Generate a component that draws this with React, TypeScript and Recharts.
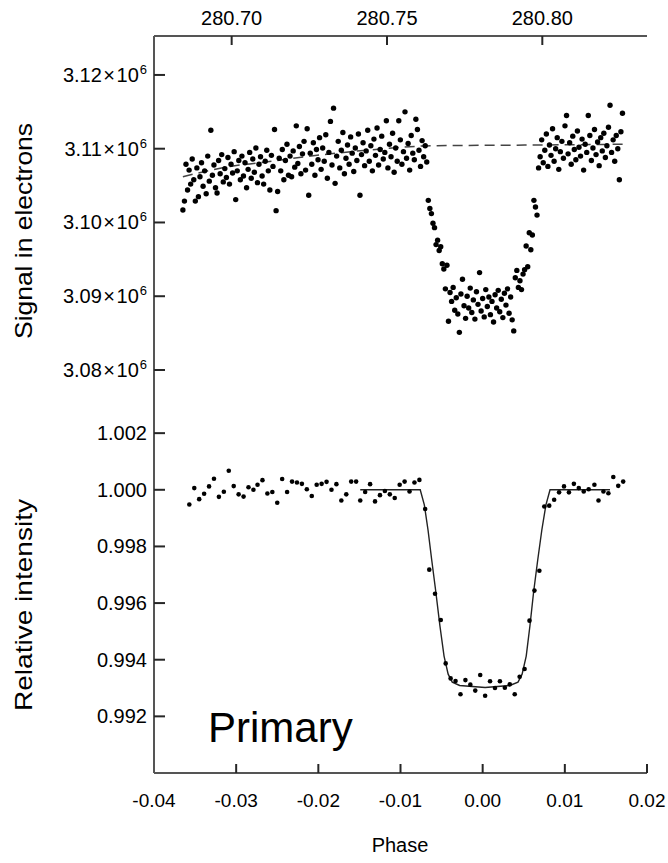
import React from 'react';
import { ComposedChart, Scatter, Line, XAxis, YAxis } from 'recharts';

const FONT = '"Liberation Sans", Arial, Helvetica, sans-serif';
const FRAME = '#555';
const TICK = '#262626';

// ---- tick labels (major ticks) ----
const timeMajorTicks = [280.7, 280.75, 280.8];
const signalMajorTicks = [3.08, 3.09, 3.1, 3.11, 3.12];
const phaseMajorTicks = [-0.04, -0.03, -0.02, -0.01, 0.0, 0.01, 0.02];
const intensityMajorTicks = [0.992, 0.994, 0.996, 0.998, 1.0, 1.002];

// ---- axis ranges ----
const timeDomain: [number, number] = [280.675, 280.8337];
const signalDomain: [number, number] = [3.07566, 3.12528];
const phaseDomain: [number, number] = [-0.04, 0.02];
const intensityDomain: [number, number] = [0.99, 1.0031];

// ---- top panel: raw signal (time in days, signal in 10^6 electrons) ----
const topSignal: [number, number][] = [
  [280.6843,3.1017],[280.6848,3.1029],[280.6853,3.1079],[280.6858,3.1044],[280.6863,3.1071],[280.6868,3.1052],[280.6873,3.1086],[280.6878,3.1058],[280.6883,3.1029],[280.6888,3.1074],
  [280.6893,3.1035],[280.6898,3.1062],[280.6903,3.1081],[280.6908,3.1049],[280.6913,3.1070],[280.6918,3.1039],[280.6923,3.1090],[280.6928,3.1056],[280.6933,3.1125],[280.6938,3.1064],
  [280.6943,3.1078],[280.6948,3.1047],[280.6953,3.1040],[280.6958,3.1084],[280.6963,3.1066],[280.6968,3.1092],[280.6973,3.1055],[280.6978,3.1073],[280.6983,3.1061],[280.6988,3.1088],
  [280.6993,3.1052],[280.6998,3.1079],[280.7003,3.1067],[280.7008,3.1096],[280.7013,3.1031],[280.7018,3.1070],[280.7023,3.1084],[280.7028,3.1058],[280.7033,3.1090],[280.7038,3.1063],
  [280.7043,3.1081],[280.7048,3.1047],[280.7053,3.1072],[280.7058,3.1095],[280.7063,3.1060],[280.7068,3.1086],[280.7073,3.1068],[280.7078,3.1101],[280.7083,3.1054],[280.7088,3.1079],
  [280.7093,3.1089],[280.7098,3.1063],[280.7103,3.1052],[280.7108,3.1083],[280.7113,3.1098],[280.7118,3.1070],[280.7123,3.1044],[280.7128,3.1091],[280.7133,3.1076],[280.7138,3.1126],
  [280.7143,3.1016],[280.7148,3.1042],[280.7153,3.1087],[280.7158,3.1070],[280.7163,3.1099],[280.7168,3.1058],[280.7173,3.1084],[280.7178,3.1106],[280.7183,3.1064],[280.7188,3.1090],
  [280.7193,3.1062],[280.7198,3.1097],[280.7203,3.1075],[280.7208,3.1131],[280.7213,3.1080],[280.7218,3.1103],[280.7223,3.1066],[280.7228,3.1093],[280.7233,3.1110],[280.7238,3.1071],
  [280.7243,3.1127],[280.7248,3.1037],[280.7253,3.1094],[280.7258,3.1079],[280.7263,3.1108],[280.7268,3.1064],[280.7273,3.1099],[280.7278,3.1085],[280.7283,3.1115],[280.7288,3.1072],
  [280.7293,3.1101],[280.7298,3.1083],[280.7303,3.1119],[280.7308,3.1060],[280.7313,3.1095],[280.7318,3.1137],[280.7323,3.1078],[280.7328,3.1155],[280.7333,3.1053],[280.7338,3.1090],
  [280.7343,3.1110],[280.7348,3.1074],[280.7353,3.1098],[280.7358,3.1122],[280.7363,3.1066],[280.7368,3.1087],[280.7373,3.1105],[280.7378,3.1079],[280.7383,3.1116],[280.7388,3.1094],
  [280.7393,3.1069],[280.7398,3.1101],[280.7403,3.1084],[280.7408,3.1120],[280.7413,3.1037],[280.7418,3.1092],[280.7423,3.1108],[280.7428,3.1077],[280.7433,3.1097],[280.7438,3.1125],
  [280.7443,3.1083],[280.7448,3.1104],[280.7453,3.1070],[280.7458,3.1113],[280.7463,3.1091],[280.7468,3.1128],[280.7473,3.1078],[280.7478,3.1099],[280.7483,3.1117],[280.7488,3.1086],
  [280.7493,3.1095],[280.7498,3.1138],[280.7503,3.1074],[280.7508,3.1106],[280.7513,3.1089],[280.7518,3.1121],[280.7523,3.1068],[280.7528,3.1101],[280.7533,3.1083],[280.7538,3.1138],
  [280.7543,3.1112],[280.7548,3.1079],[280.7553,3.1096],[280.7558,3.1150],[280.7563,3.1087],[280.7568,3.1107],[280.7573,3.1071],[280.7578,3.1118],[280.7583,3.1094],[280.7588,3.1085],
  [280.7593,3.1140],[280.7598,3.1126],[280.7603,3.1098],[280.7608,3.1076],[280.7613,3.1111],[280.7618,3.1089],[280.7623,3.1104],[280.7628,3.1082],
  [280.7633,3.1030],[280.7638,3.1019],[280.7643,3.1012],[280.7648,3.0999],[280.7653,3.0993],[280.7658,3.0970],[280.7663,3.0976],[280.7668,3.0962],[280.7673,3.0967],[280.7678,3.0944],
  [280.7683,3.0937],[280.7688,3.0910],[280.7693,3.0942],
  [280.7698,3.0866],[280.7703,3.0905],[280.7708,3.0893],[280.7713,3.0912],[280.7718,3.0881],[280.7723,3.0898],[280.7728,3.0876],[280.7733,3.0851],[280.7738,3.0903],[280.7743,3.0923],
  [280.7748,3.0887],[280.7753,3.0870],[280.7758,3.0900],[280.7763,3.0884],[280.7768,3.0911],[280.7773,3.0878],[280.7778,3.0895],[280.7783,3.0869],[280.7788,3.0906],[280.7793,3.0889],
  [280.7798,3.0932],[280.7803,3.0880],[280.7808,3.0897],[280.7813,3.0872],[280.7818,3.0909],[280.7823,3.0886],[280.7828,3.0899],[280.7833,3.0875],[280.7838,3.0893],[280.7843,3.0865],
  [280.7848,3.0902],[280.7853,3.0884],[280.7858,3.0908],[280.7863,3.0879],[280.7868,3.0896],[280.7873,3.0871],[280.7878,3.0904],[280.7883,3.0888],[280.7888,3.0910],[280.7893,3.0877],
  [280.7898,3.0899],[280.7903,3.0868],
  [280.7908,3.0853],[280.7913,3.0925],[280.7918,3.0935],[280.7923,3.0912],[280.7928,3.0921],[280.7933,3.0909],[280.7938,3.0930],[280.7943,3.0936],[280.7948,3.0968],[280.7953,3.0940],
  [280.7958,3.0986],[280.7963,3.0963],[280.7968,3.0983],[280.7973,3.1030],[280.7978,3.1021],[280.7983,3.1010],
  [280.7988,3.1074],[280.7993,3.1089],[280.7998,3.1112],[280.8003,3.1081],[280.8008,3.1098],[280.8013,3.1120],[280.8018,3.1076],[280.8023,3.1105],[280.8028,3.1091],[280.8033,3.1127],
  [280.8038,3.1083],[280.8043,3.1100],[280.8048,3.1115],[280.8053,3.1072],[280.8058,3.1096],[280.8063,3.1110],[280.8068,3.1087],[280.8073,3.1131],[280.8078,3.1145],[280.8083,3.1093],
  [280.8088,3.1108],[280.8093,3.1079],[280.8098,3.1117],[280.8103,3.1099],[280.8108,3.1085],[280.8113,3.1124],[280.8118,3.1102],[280.8123,3.1090],[280.8128,3.1113],[280.8133,3.1071],
  [280.8138,3.1106],[280.8143,3.1095],[280.8148,3.1145],[280.8153,3.1118],[280.8158,3.1084],[280.8163,3.1101],[280.8168,3.1126],[280.8173,3.1092],[280.8178,3.1109],[280.8183,3.1077],
  [280.8188,3.1115],[280.8193,3.1097],[280.8198,3.1121],[280.8203,3.1088],[280.8208,3.1104],[280.8213,3.1129],[280.8218,3.1159],[280.8223,3.1095],[280.8228,3.1112],[280.8233,3.1083],
  [280.8238,3.1118],[280.8243,3.1100],[280.8248,3.1058],[280.8253,3.1123],[280.8258,3.1148],
];

// dashed out-of-eclipse baseline fit (time, 10^6 electrons)
const signalBaseline: [number, number][] = [
  [280.6843,3.1062],[280.6995,3.1076],[280.7091,3.1081],[280.7294,3.1092],[280.7436,3.1098],
  [280.7648,3.1104],[280.7983,3.1105],[280.8260,3.1106],
];

// ---- bottom panel: phase-binned relative intensity ----
const binnedIntensity: [number, number][] = [
  [-0.0357,0.99948],[-0.0351,1.00006],[-0.0345,0.99967],[-0.0339,0.99986],[-0.0333,1.00012],[-0.0327,1.00039],[-0.0321,0.99975],[-0.0315,0.99993],[-0.0309,1.00067],[-0.0303,1.00013],
  [-0.0297,0.99984],[-0.0291,0.99976],[-0.0285,1.00009],[-0.0279,1.0],[-0.0274,1.00018],[-0.0268,1.00034],[-0.0262,0.99987],[-0.0256,0.99992],[-0.0250,0.99954],[-0.0244,1.00038],
  [-0.0238,0.99992],[-0.0232,1.00029],[-0.0226,1.00026],[-0.0220,1.00021],[-0.0214,1.00002],[-0.0208,0.99978],[-0.0202,1.00018],[-0.0196,1.00021],[-0.0190,1.00028],[-0.0184,1.0],
  [-0.0178,1.0002],[-0.0172,0.99962],[-0.0166,0.99984],[-0.0160,1.00029],[-0.0154,1.00029],[-0.0149,0.99962],[-0.0143,0.99992],[-0.0137,1.0002],[-0.0131,0.99959],[-0.0125,0.99981],
  [-0.0119,0.99996],[-0.0113,0.99984],[-0.0107,0.99971],[-0.0101,1.00018],[-0.0095,1.00029],[-0.0089,0.99994],[-0.0083,1.00026],[-0.0077,1.00035],[-0.0070,0.99932],[-0.0065,0.99718],
  [-0.0058,0.99633],[-0.0051,0.9954],[-0.0045,0.99387],[-0.0039,0.99334],[-0.0033,0.99325],[-0.0027,0.99278],[-0.0021,0.99328],[-0.0015,0.99312],[-0.0009,0.99291],[-0.0003,0.99346],
  [0.0003,0.99273],[0.0009,0.99324],[0.0015,0.993],[0.0021,0.99324],[0.0027,0.99301],[0.0033,0.99313],[0.0039,0.99278],[0.0045,0.9934],[0.0051,0.99367],[0.0057,0.99538],
  [0.0063,0.99644],[0.0069,0.99714],[0.0075,0.99941],[0.0081,0.99944],[0.0087,0.99965],[0.0093,0.99991],[0.0099,1.00012],[0.0105,0.99991],[0.0111,1.00021],[0.0117,1.00006],
  [0.0123,0.99994],[0.0129,1.00002],[0.0136,1.00018],[0.0141,0.99962],[0.0147,0.99994],[0.0153,0.99988],[0.0159,1.00045],[0.0165,1.00014],[0.0171,1.00029],
];

// eclipse model (phase, relative intensity)
const eclipseModel: [number, number][] = [
  [-0.0149,1.0],[-0.0076,1.0],[-0.0071,0.99947],[-0.00665,0.99858],[-0.0062,0.99752],[-0.0057,0.99639],[-0.0052,0.99519],
  [-0.0047,0.99413],[-0.0042,0.99349],[-0.0037,0.99321],[-0.0028,0.99309],[0.0003,0.99302],[0.0033,0.99309],[0.0043,0.99321],
  [0.0048,0.99349],[0.0053,0.99413],[0.00575,0.99519],[0.0062,0.99639],[0.0067,0.99752],[0.0072,0.99858],[0.0077,0.99947],
  [0.0082,1.0],[0.0155,1.0],
];

// ---- helpers ----
const steps = (from: number, to: number, step: number, digits: number) => {
  const n = Math.round((to - from) / step);
  const out: number[] = [];
  for (let i = 0; i <= n; i++) out.push(+(from + i * step).toFixed(digits));
  return out;
};
const timeMinorTicks = steps(280.68, 280.83, 0.01, 2);
const signalMinorTicks = steps(3.076, 3.125, 0.001, 3);
const phaseMinorTicks = steps(-0.04, 0.02, 0.001, 3);
const intensityMinorTicks = steps(0.9905, 1.003, 0.0005, 4);

const toXY = (arr: [number, number][]) => arr.map(([x, y]) => ({ x, y }));
const topData = toXY(topSignal);
const baselineData = toXY(signalBaseline);
const binnedData = toXY(binnedIntensity);
const modelData = toXY(eclipseModel);

const yLabelStyle = { fontFamily: FONT, fontSize: 20, fill: '#000' };
const topLabelStyle = { fontFamily: FONT, fontSize: 20, fill: '#000' };
const bottomLabelStyle = { fontFamily: FONT, fontSize: 19, fill: '#000' };

// label renderers (tick marks themselves are drawn by the axes' tickLine)
const signalLabel = (p: any) => (
  <text x={p.x} y={p.y + 7} textAnchor="end" {...yLabelStyle}>
    {Number(p.payload.value).toFixed(2)}<tspan dx={1.5}>×</tspan><tspan dx={1.5}>10</tspan>
    <tspan dx={1} dy={-8} fontSize={13}>6</tspan>
  </text>
);
const intensityLabel = (p: any) => (
  <text x={p.x} y={p.y + 7} textAnchor="end" {...yLabelStyle}>{Number(p.payload.value).toFixed(3)}</text>
);
const timeLabel = (p: any) => (
  <text x={p.x} y={p.y} textAnchor="middle" {...topLabelStyle}>{Number(p.payload.value).toFixed(2)}</text>
);
const phaseLabel = (p: any) => (
  <text x={p.x} y={p.y} textAnchor="middle" {...bottomLabelStyle}>{Number(p.payload.value).toFixed(2)}</text>
);

const dotTop = (p: any) => <circle cx={p.cx} cy={p.cy} r={2.7} fill="#000" />;
const dotBottom = (p: any) => <circle cx={p.cx} cy={p.cy} r={2.3} fill="#000" />;

const axisLine = { stroke: FRAME, strokeWidth: 2 };
const tickLine = { stroke: TICK, strokeWidth: 2 };
const common = { type: 'number' as const, allowDataOverflow: true, interval: 0 as const, stroke: TICK };

export default function App() {
  return (
    <div style={{ position: 'absolute', left: 0, top: 0, width: 668, height: 863, background: '#fff', overflow: 'hidden' }}>
      <div style={{ position: 'absolute', left: 0, top: 0 }}>
        <ComposedChart width={668} height={420} margin={{ top: 0, right: 21, bottom: 18, left: 0 }}>
          {/* minor (mirrored, inward) axes first */}
          <XAxis {...common} xAxisId="tm" orientation="top" mirror dataKey="x" domain={timeDomain}
            ticks={timeMinorTicks} height={0} tickSize={5} tick={false} tickLine={tickLine} axisLine={false} />
          <XAxis {...common} xAxisId="pm" orientation="bottom" mirror dataKey="x" domain={phaseDomain}
            ticks={phaseMinorTicks} height={0} tickSize={4} tick={false} tickLine={tickLine} axisLine={false} />
          <XAxis {...common} xAxisId="pM" orientation="bottom" mirror dataKey="x" domain={phaseDomain}
            ticks={phaseMajorTicks} height={0} tickSize={9} tick={false} tickLine={tickLine} axisLine={axisLine} />
          <YAxis {...common} yAxisId="lm" orientation="left" mirror dataKey="y" domain={signalDomain}
            ticks={signalMinorTicks} width={0} tickSize={6} tick={false} tickLine={tickLine} axisLine={false} />
          <YAxis {...common} yAxisId="rm" orientation="right" mirror dataKey="y" domain={signalDomain}
            ticks={signalMinorTicks} width={0} tickSize={6} tick={false} tickLine={tickLine} axisLine={false} />
          <YAxis {...common} yAxisId="rM" orientation="right" mirror dataKey="y" domain={signalDomain}
            ticks={signalMajorTicks} width={0} tickSize={11} tick={false} tickLine={tickLine} axisLine={axisLine} />
          {/* labelled major axes */}
          <XAxis {...common} xAxisId="t" orientation="top" dataKey="x" domain={timeDomain}
            ticks={timeMajorTicks} height={36} tickSize={-9} tickMargin={20} tickLine={tickLine}
            axisLine={axisLine} tick={timeLabel} />
          <YAxis {...common} yAxisId="l" orientation="left" dataKey="y" domain={signalDomain}
            ticks={signalMajorTicks} width={154} tickSize={-11} tickMargin={18} tickLine={tickLine}
            axisLine={axisLine} tick={signalLabel} />
          <Line xAxisId="t" yAxisId="l" data={baselineData} dataKey="y" type="monotone" stroke="#444"
            strokeWidth={1.5} strokeDasharray="10 6" dot={false} activeDot={false} isAnimationActive={false} />
          <Scatter xAxisId="t" yAxisId="l" data={topData} fill="#000" shape={dotTop} isAnimationActive={false} />
        </ComposedChart>
      </div>
      <div style={{ position: 'absolute', left: 0, top: 380 }}>
        <ComposedChart width={668} height={483} margin={{ top: 22, right: 21, bottom: 0, left: 0 }}>
          <XAxis {...common} xAxisId="ptm" orientation="top" mirror dataKey="x" domain={phaseDomain}
            ticks={phaseMinorTicks} height={0} tickSize={4} tick={false} tickLine={tickLine} axisLine={false} />
          <XAxis {...common} xAxisId="ptM" orientation="top" mirror dataKey="x" domain={phaseDomain}
            ticks={phaseMajorTicks} height={0} tickSize={9} tick={false} tickLine={tickLine} axisLine={axisLine} />
          <XAxis {...common} xAxisId="pbm" orientation="bottom" mirror dataKey="x" domain={phaseDomain}
            ticks={phaseMinorTicks} height={0} tickSize={4} tick={false} tickLine={tickLine} axisLine={false} />
          <YAxis {...common} yAxisId="lm" orientation="left" mirror dataKey="y" domain={intensityDomain}
            ticks={intensityMinorTicks} width={0} tickSize={6} tick={false} tickLine={tickLine} axisLine={false} />
          <YAxis {...common} yAxisId="rm" orientation="right" mirror dataKey="y" domain={intensityDomain}
            ticks={intensityMinorTicks} width={0} tickSize={6} tick={false} tickLine={tickLine} axisLine={false} />
          <YAxis {...common} yAxisId="rM" orientation="right" mirror dataKey="y" domain={intensityDomain}
            ticks={intensityMajorTicks} width={0} tickSize={11} tick={false} tickLine={tickLine} axisLine={axisLine} />
          <XAxis {...common} xAxisId="p" orientation="bottom" dataKey="x" domain={phaseDomain}
            ticks={phaseMajorTicks} height={90} tickSize={-9} tickMargin={43} tickLine={tickLine}
            axisLine={axisLine} tick={phaseLabel} />
          <YAxis {...common} yAxisId="l" orientation="left" dataKey="y" domain={intensityDomain}
            ticks={intensityMajorTicks} width={154} tickSize={-11} tickMargin={18} tickLine={tickLine}
            axisLine={axisLine} tick={intensityLabel} />
          <Line xAxisId="p" yAxisId="l" data={modelData} dataKey="y" type="linear" stroke="#222"
            strokeWidth={1.4} dot={false} activeDot={false} isAnimationActive={false} />
          <Scatter xAxisId="p" yAxisId="l" data={binnedData} fill="#000" shape={dotBottom} isAnimationActive={false} />
        </ComposedChart>
      </div>
      <svg width={668} height={863} style={{ position: 'absolute', left: 0, top: 0, pointerEvents: 'none' }}>
        <text transform="translate(32 231) rotate(-90)" textAnchor="middle" fontFamily={FONT} fontSize={24}
          textLength={216} lengthAdjust="spacingAndGlyphs" fill="#000">
          Signal in electrons
        </text>
        <text transform="translate(32 605) rotate(-90)" textAnchor="middle" fontFamily={FONT} fontSize={24}
          textLength={212} lengthAdjust="spacingAndGlyphs" fill="#000">
          Relative intensity
        </text>
        <text x={400} y={852} textAnchor="middle" fontFamily={FONT} fontSize={20} fill="#000">Phase</text>
        <text x={208} y={742} fontFamily={FONT} fontSize={42} fill="#000">Primary</text>
      </svg>
    </div>
  );
}
